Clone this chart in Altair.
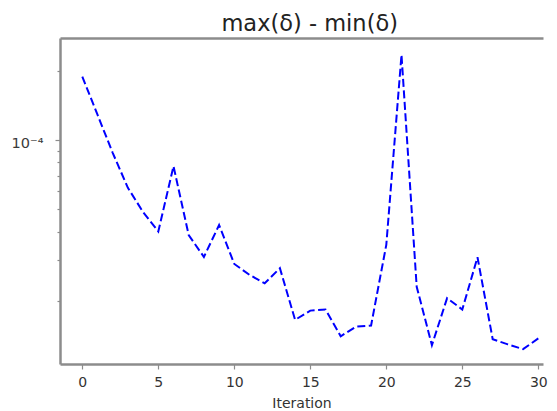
import altair as alt
import pandas as pd

iterations = list(range(31))
spread = [1.89e-4, 1.29e-4, 0.88e-4, 0.62e-4, 0.486e-4, 0.400e-4, 0.77e-4, 0.386e-4,
          0.31e-4, 0.427e-4, 0.289e-4, 0.259e-4, 0.238e-4, 0.277e-4, 0.165e-4, 0.181e-4,
          0.183e-4, 0.140e-4, 0.154e-4, 0.156e-4, 0.350e-4, 2.35e-4, 0.230e-4, 0.128e-4,
          0.205e-4, 0.183e-4, 0.309e-4, 0.136e-4, 0.129e-4, 0.123e-4, 0.137e-4]
x_ticks = [0, 5, 10, 15, 20, 25, 30]
y_ticks = [2e-5, 3e-5, 4e-5, 5e-5, 6e-5, 7e-5, 8e-5, 9e-5, 1e-4, 2e-4]
title_text = "max(δ) - min(δ)"

df = pd.DataFrame({"Iteration": iterations, "spread": spread})

FRAME = "#8c8c8c"
major_test = "abs(datum.value - 0.0001) < 1e-10"
x_scale = alt.Scale(domain=[-1.467, 30.31], nice=False, zero=False)

line = alt.Chart(df).mark_line(
    color="#0000ff", strokeDash=[8, 3.5], strokeWidth=2, clip=True
).encode(
    x=alt.X("Iteration:Q", scale=x_scale,
            axis=alt.Axis(values=x_ticks, title="Iteration", grid=False,
                          tickSize=5, labelPadding=6, titlePadding=7,
                          format="d")),
    y=alt.Y("spread:Q",
            scale=alt.Scale(type="log", domain=[1.06e-5, 2.783e-4], nice=False),
            axis=alt.Axis(values=y_ticks, title=None, grid=False,
                          labelExpr="abs(datum.value - 0.0001) < 1e-10 ? '10⁻⁴' : ''",
                          tickSize={"condition": {"test": major_test, "value": 5}, "value": 3},
                          labelFontSize=14.5, labelColor="#3a3a3a",
                          labelOffset=3, labelPadding=12)),
)

# top spine as an empty top axis
top = alt.Chart(df).mark_point(opacity=0).encode(
    x=alt.X("Iteration:Q", scale=x_scale,
            axis=alt.Axis(orient="top", labels=False, ticks=False, title=None,
                          grid=False, domain=True)),
)

one = pd.DataFrame({"a": [0]})
title = alt.Chart(one).mark_text(
    font="DejaVu Sans", fontSize=22.5, color="#222222",
    align="center", baseline="alphabetic"
).encode(x=alt.value(249.7), y=alt.value(-7), text=alt.value(title_text))

chart = alt.layer(line, top, title).resolve_axis(x="independent").properties(
    width=483, height=326,
    padding={"left": 52, "top": 30, "right": 6, "bottom": 47},
    autosize=alt.AutoSizeParams(type="none"),
).configure_view(strokeWidth=0, stroke="transparent").configure_axis(
    labelFont="DejaVu Sans", labelFontSize=14, labelColor="#333333",
    titleFont="DejaVu Sans", titleFontSize=14, titleFontWeight="normal", titleColor="#333333",
    domainColor=FRAME, domainWidth=2.5, tickColor=FRAME, tickWidth=1.2,
)

chart.save("out.html", embed_options={"renderer": "svg", "actions": False})
